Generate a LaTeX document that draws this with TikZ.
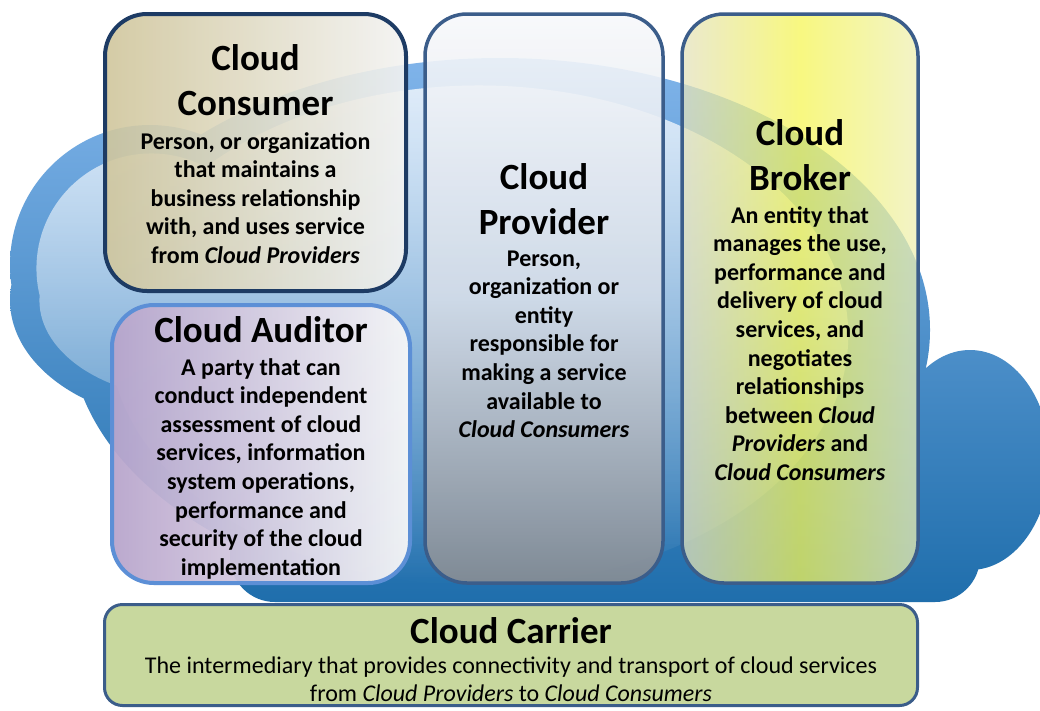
\documentclass[tikz,border=0pt]{standalone}
\usepackage{fontspec}
\setmainfont{Carlito}
\usetikzlibrary{fadings}
\newcommand{\mylines}[1]{\begin{tabular}[t]{@{}c@{}}#1\end{tabular}}
\newcommand{\ttlfont}{\bfseries\fontsize{37}{45}\selectfont}
\newcommand{\bodyfont}{\bfseries\fontsize{24}{28.6}\selectfont}
\newcommand{\carfont}{\fontsize{24}{28}\selectfont}
\definecolor{cloudtop}{HTML}{80B4EA}
\definecolor{cloudbot}{HTML}{1F6EAC}
\definecolor{navy}{HTML}{1D3B64}
\definecolor{edgeblue}{HTML}{3B5D8A}
\definecolor{audedge}{HTML}{5C8FD6}
\definecolor{carrfill}{HTML}{C8D89E}
\definecolor{consL}{HTML}{D0C69C}
\definecolor{consR}{HTML}{F3F3F2}
\definecolor{audL}{HTML}{B8A5CC}
\definecolor{audR}{HTML}{F8F8F8}
\definecolor{provT}{HTML}{F8F9FB}
\definecolor{provM}{HTML}{D3DCE8}
\definecolor{provB}{HTML}{898D93}
\definecolor{brokL}{HTML}{E4E2BE}
\definecolor{brokM}{HTML}{F6F655}
\definecolor{brokR}{HTML}{EEF0B4}
\tikzfading[name=hlfade, top color=transparent!5, middle color=transparent!70, bottom color=transparent!100]
\tikzset{
  box/.style={rectangle, rounded corners=42pt, inner sep=0pt, draw=edgeblue, line width=3.5pt},
  ttl/.style={anchor=base, inner sep=0pt, font=\ttlfont},
  body/.style={anchor=base, inner sep=0pt, font=\bodyfont},
}
\begin{document}
\begin{tikzpicture}[x=1pt,y=-1pt]
\useasboundingbox (0,0) rectangle (1040,710);
\fill[white] (0,0) rectangle (1040,710);
% cloud
\shade[top color=cloudtop, bottom color=cloudbot, rounded corners=45pt]
  (150,265) ellipse [x radius=140pt, y radius=140pt]
  (190,300) ellipse [x radius=180pt, y radius=122pt]
  (500,330) ellipse [x radius=430pt, y radius=272pt]
  (970,460) ellipse [x radius=80pt, y radius=110pt]
  (230,420) rectangle (980,602);
\fill[white, fill opacity=0.8, path fading=hlfade]
  (152,268) ellipse [x radius=115pt, y radius=115pt]
  (192,300) ellipse [x radius=152pt, y radius=98pt]
  (480,335) ellipse [x radius=370pt, y radius=250pt];
% boxes
\node[box, draw=navy, line width=4pt, left color=consL, right color=consR, fill opacity=0.9,
      minimum width=301pt, minimum height=277pt] (cons) at (255.5,152.5) {};
\node[box, draw=audedge, line width=4pt, left color=audL, right color=audR, fill opacity=0.95,
      minimum width=298pt, minimum height=278pt] (aud) at (261,444) {};
\node[box, top color=provT, bottom color=provB, middle color=provM, fill opacity=0.9,
      minimum width=238pt, minimum height=569pt] (prov) at (544,298.5) {};
\node[box, left color=brokL, right color=brokR, middle color=brokM, fill opacity=0.74,
      minimum width=236pt, minimum height=569pt] (brok) at (800,298.5) {};
\node[box, rounded corners=18pt, line width=3pt, fill=carrfill,
      minimum width=813pt, minimum height=101pt] (carr) at (511,655) {};
% texts
\node[ttl] (consT) at (255.5,70) {\mylines{Cloud\\Consumer}};
\node[body] (consB) at (255.5,149) {\mylines{Person, or organization\\that maintains a\\business relationship\\with, and uses service\\from \textit{Cloud Providers}}};
\node[ttl] (audT) at (261,342) {\mylines{Cloud Auditor}};
\node[body] (audB) at (261,375) {\mylines{A party that can\\conduct independent\\assessment of cloud\\services, information\\system operations,\\performance and\\security of the cloud\\implementation}};
\node[ttl] (provTx) at (544,189) {\mylines{Cloud\\Provider}};
\node[body] (provBx) at (544,266) {\mylines{Person,\\organization or\\entity\\responsible for\\making a service\\available to\\\textit{Cloud Consumers}}};
\node[ttl] (brokT) at (800,145) {\mylines{Cloud\\Broker}};
\node[body] (brokB) at (800,223) {\mylines{An entity that\\manages the use,\\performance and\\delivery of cloud\\services, and\\negotiates\\relationships\\between \textit{Cloud}\\\textit{Providers} and\\\textit{Cloud Consumers}}};
\node[ttl] (carrT) at (511,643) {\mylines{Cloud Carrier}};
\node[anchor=base, inner sep=0pt, font=\carfont] (carrB) at (511,673) {\mylines{The intermediary that provides connectivity and transport of cloud services\\from \textit{Cloud Providers} to \textit{Cloud Consumers}}};
\end{tikzpicture}
\end{document}
